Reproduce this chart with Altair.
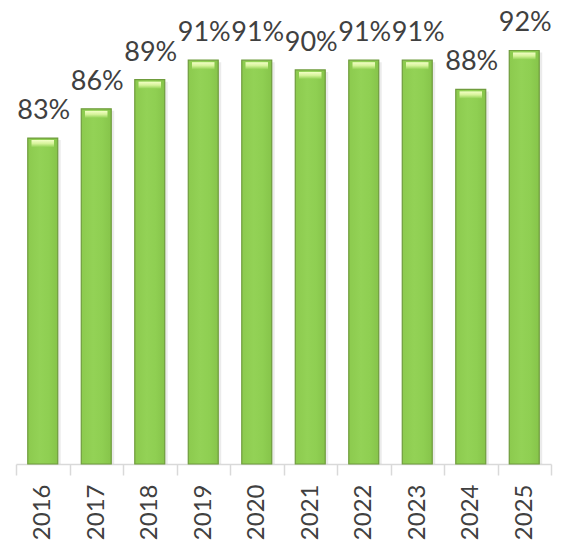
import altair as alt
import pandas as pd

years = ["2016", "2017", "2018", "2019", "2020", "2021", "2022", "2023", "2024", "2025"]
values = [83, 86, 89, 91, 91, 90, 91, 91, 88, 92]
labels = ["83%", "86%", "89%", "91%", "91%", "90%", "91%", "91%", "88%", "92%"]

Y_MIN = 49.5
Y_MAX = 96.16

df = pd.DataFrame({"year": years, "value": values, "label": labels})

FONT = "Lato"

x_enc = alt.X(
    "year:N",
    sort=years,
    title=None,
    scale=alt.Scale(paddingInner=0, paddingOuter=0),
    axis=alt.Axis(
        labelAngle=-90,
        labelAlign="right",
        labelBaseline="middle",
        labelFont=FONT,
        labelFontSize=24,
        labelColor="#404040",
        labelPadding=9,
        domainColor="#d9d9d9",
        domainWidth=1.5,
        tickColor="#d9d9d9",
        tickWidth=1.5,
        tickSize=11,
        tickBand="extent",
        labelFlush=False,
    ),
)
y_scale = alt.Scale(domain=[Y_MIN, Y_MAX], zero=False, nice=False)
y_enc = alt.Y("value:Q", scale=y_scale, axis=None, title=None)

base = alt.Chart(df)

shadow = base.mark_bar(
    width=alt.RelativeBandSize(0.56),
    color="#000000",
    opacity=0.08,
    xOffset=3,
    yOffset=2,
).encode(x=x_enc, y=y_enc, y2=alt.datum(Y_MIN))

bars = base.mark_bar(
    width=alt.RelativeBandSize(0.56),
    stroke="#6f9c3d",
    strokeWidth=1.2,
    color=alt.Gradient(
        gradient="linear",
        x1=0, x2=1, y1=0, y2=0,
        stops=[
            alt.GradientStop(color="#8cca4e", offset=0),
            alt.GradientStop(color="#93d256", offset=0.4),
            alt.GradientStop(color="#8fcf52", offset=0.7),
            alt.GradientStop(color="#86c44a", offset=1),
        ],
    ),
).encode(x=x_enc, y=y_enc, y2=alt.datum(Y_MIN))

highlight = base.mark_bar(
    width=alt.RelativeBandSize(0.42),
    yOffset=2,
    y2Offset=9,
    color=alt.Gradient(
        gradient="linear",
        x1=0, x2=0, y1=0, y2=1,
        stops=[
            alt.GradientStop(color="#f3ffc6", offset=0),
            alt.GradientStop(color="#d6f39a", offset=0.5),
            alt.GradientStop(color="#93d256", offset=1),
        ],
    ),
).encode(x=x_enc, y=y_enc, y2="value:Q")

text = base.mark_text(
    font=FONT,
    fontSize=27,
    color="#404040",
    baseline="alphabetic",
    align="center",
    dy=-19,
    dx=1,
).encode(x=x_enc, y=y_enc, text="label:N")

chart = (
    alt.layer(shadow, bars, highlight, text)
    .properties(
        width=535,
        height=454,
        autosize=alt.AutoSizeParams(type="none"),
        padding={"left": 8, "top": 2, "right": 4, "bottom": 79},
    )
    .configure_view(stroke=None)
)

chart.save("out.html", embed_options={"renderer": "svg", "actions": False})
